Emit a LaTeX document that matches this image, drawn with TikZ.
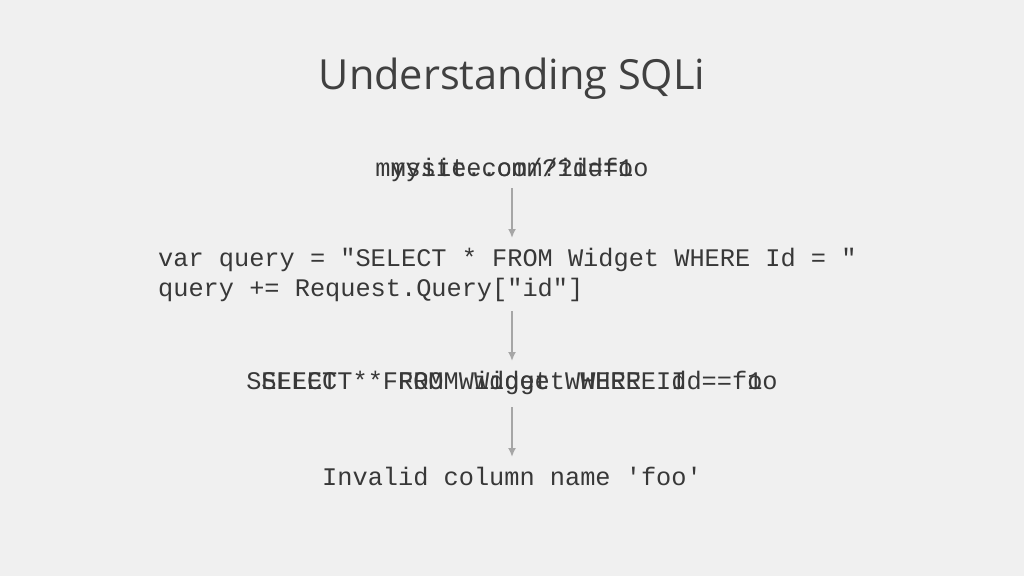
\documentclass[tikz,border=0pt]{standalone}
\usepackage{fontspec}
\setmainfont{Open Sans}
\setmonofont{Liberation Mono}
\usetikzlibrary{arrows.meta}
\definecolor{bg}{HTML}{F0F0F0}
\definecolor{ink}{HTML}{383838}
\definecolor{titleink}{HTML}{404040}
\definecolor{arrowgray}{HTML}{A6A6A6}
\begin{document}
\begin{tikzpicture}[x=1pt,y=-1pt,
  mono/.style={font=\fontsize{25.3}{30}\selectfont\ttfamily, text=ink, inner sep=0pt, anchor=base},
  flow/.style={draw=arrowgray, line width=2pt, -{Latex[length=9pt,width=8pt]}}]
\fill[bg] (0,0) rectangle (1024,576);
\useasboundingbox (0,0) rectangle (1024,576);
\node[font=\fontsize{41.5}{48}\selectfont, text=titleink, inner sep=0pt, anchor=base] (title) at (512,89) {Understanding SQLi};
\node[mono] (url1) at (512,176) {mysite.com/?id=1};
\node[mono] (url2) at (512,176) {mysite.com/?id=foo};
\node[mono, anchor=base west] (code1) at (158,266) {var query = "SELECT * FROM Widget WHERE Id = "};
\node[mono, anchor=base west] (code2) at (158,296) {query += Request.Query["id"]};
\node[mono] (sql1) at (512,389) {SELECT * FROM Widget WHERE Id = 1};
\node[mono] (sql2) at (512,389) {SELECT * FROM Widget WHERE Id = foo};
\node[mono] (err) at (512,485) {Invalid column name 'foo'};
\coordinate (a1s) at (512,188); \coordinate (a1e) at (512,238);
\coordinate (a2s) at (512,311); \coordinate (a2e) at (512,361);
\coordinate (a3s) at (512,407); \coordinate (a3e) at (512,457);
\draw[flow] (a1s) -- (a1e);
\draw[flow] (a2s) -- (a2e);
\draw[flow] (a3s) -- (a3e);
\end{tikzpicture}
\end{document}
